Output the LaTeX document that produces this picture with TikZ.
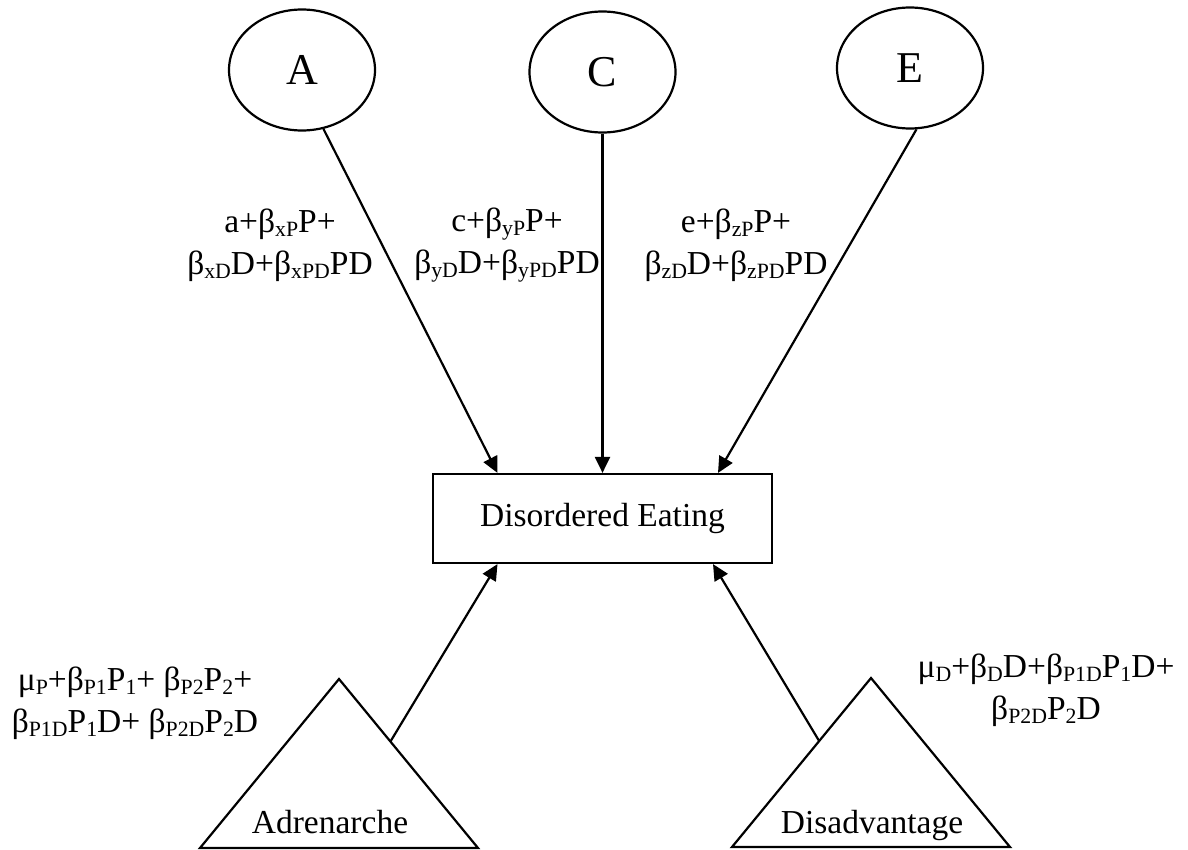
\documentclass[tikz,border=0pt]{standalone}
\usepackage{fontspec}
\setmainfont{Liberation Serif}
\usepackage{tikz}
\usetikzlibrary{arrows.meta, shapes.geometric, calc}
\newcommand{\sbs}[1]{\raisebox{-0.3ex}{\fontsize{10.9}{11}\selectfont #1}}

\begin{document}
\begin{tikzpicture}[x=0.5pt, y=-0.5pt, line width=1.1pt,
	txt/.style={font=\fontsize{16.75}{21}\selectfont, align=center, inner sep=0pt},
	latent/.style={draw, ellipse, minimum width=73pt, minimum height=60.5pt, inner sep=0pt, font=\fontsize{22}{26}\selectfont},
	arr/.style={-{Triangle[length=8pt, width=7.5pt]}}]
	\useasboundingbox (0,0) rectangle (1188,850);
	% latent factors
	\node [latent] (A) at (302,70) {A};
	\node [latent] (C) at (602.5,72) {C};
	\node [latent] (E) at (910,68) {E};
	% phenotype
	\node [draw, txt, minimum width=169.5pt, minimum height=44.5pt] (DE) at (602.5,518.5) {Disordered Eating};
	% moderators
	\coordinate (adr-top) at (339,679);
	\coordinate (adr-l) at (200,848);
	\coordinate (adr-r) at (478,848);
	\draw (adr-l) -- (adr-top) -- (adr-r) -- cycle;
	\node [txt, anchor=base] (adr) at (330,833) {Adrenarche};
	\coordinate (dis-top) at (871,678);
	\coordinate (dis-l) at (732,847);
	\coordinate (dis-r) at (1010,847);
	\draw (dis-l) -- (dis-top) -- (dis-r) -- cycle;
	\node [txt, anchor=base] (dis) at (872,833) {Disadvantage};
	\coordinate (adr-out) at ($(adr-top)!0.37!(adr-r)$);
	\coordinate (dis-out) at ($(dis-top)!0.373!(dis-l)$);
	% paths
	\draw [arr] (A.-70) -- ([xshift=-52.5pt]DE.north);
	\draw [arr] (C) -- (DE);
	\draw [arr] (E.-84) -- ([xshift=57.75pt]DE.north);
	\draw [arr] (adr-out) -- ([xshift=-52.5pt]DE.south);
	\draw [arr] (dis-out) -- ([xshift=55.25pt]DE.south);
	% path labels
	\node [txt] (la) at (280,245) {a+β\sbs{xP}P+\\β\sbs{xD}D+β\sbs{xPD}PD};
	\node [txt] (lc) at (507,245) {c+β\sbs{yP}P+\\β\sbs{yD}D+β\sbs{yPD}PD};
	\node [txt] (le) at (736,245) {e+β\sbs{zP}P+\\β\sbs{zD}D+β\sbs{zPD}PD};
	\node [txt] (ladr) at (135,703) {μ\sbs{P}+β\sbs{P1}P\sbs{1}+ β\sbs{P2}P\sbs{2}+\\β\sbs{P1D}P\sbs{1}D+ β\sbs{P2D}P\sbs{2}D};
	\node [txt] (ldis) at (1046,690) {μ\sbs{D}+β\sbs{D}D+β\sbs{P1D}P\sbs{1}D+\\β\sbs{P2D}P\sbs{2}D};
\end{tikzpicture}
\end{document}
